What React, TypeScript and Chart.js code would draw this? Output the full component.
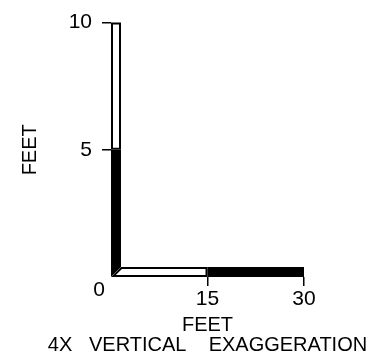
import React, { useEffect, useRef } from 'react';
import { Chart, registerables } from 'chart.js';

Chart.register(...registerables);

// Scale-bar values (feet)
const verticalBreaks = [0, 5, 10];
const horizontalBreaks = [0, 15, 30];
const yTickValues = [5, 10];
const xTickValues = [15, 30];
const originLabel = '0';
const yTitle = 'FEET';
const xTitle = 'FEET';
const noteText = '4X   VERTICAL    EXAGGERATION';

const FONT = "'Liberation Sans', Arial, sans-serif";
const BAR = 10;

const scaleBarPlugin = {
  id: 'scaleBar',
  afterDraw(chart: any) {
    const { ctx } = chart;
    const xs = chart.scales.x;
    const ys = chart.scales.y;
    const x0 = xs.getPixelForValue(0);
    const y0 = ys.getPixelForValue(0);

    const drawShape = (pts: number[][], filled: boolean) => {
      ctx.save();
      ctx.beginPath();
      pts.forEach((p, i) => (i === 0 ? ctx.moveTo(p[0], p[1]) : ctx.lineTo(p[0], p[1])));
      ctx.closePath();
      if (filled) {
        ctx.fillStyle = '#000';
        ctx.fill();
      } else {
        ctx.fillStyle = '#fff';
        ctx.fill();
        ctx.clip();
        ctx.lineWidth = 4;
        ctx.strokeStyle = '#000';
        ctx.stroke();
      }
      ctx.restore();
    };

    // vertical bar segments (black first)
    for (let i = 0; i < verticalBreaks.length - 1; i++) {
      const bot = ys.getPixelForValue(verticalBreaks[i]);
      const top = ys.getPixelForValue(verticalBreaks[i + 1]);
      const filled = i % 2 === 0;
      const pts =
        verticalBreaks[i] === 0
          ? [[x0, top], [x0 + BAR, top], [x0 + BAR, bot - BAR], [x0, bot]]
          : [[x0, top], [x0 + BAR, top], [x0 + BAR, bot], [x0, bot]];
      drawShape(pts, filled);
    }
    // horizontal bar segments (white first)
    for (let i = 0; i < horizontalBreaks.length - 1; i++) {
      const l = xs.getPixelForValue(horizontalBreaks[i]);
      const r = xs.getPixelForValue(horizontalBreaks[i + 1]);
      const filled = i % 2 === 1;
      const pts =
        horizontalBreaks[i] === 0
          ? [[l, y0], [l + BAR, y0 - BAR], [r, y0 - BAR], [r, y0]]
          : [[l, y0 - BAR], [r, y0 - BAR], [r, y0], [l, y0]];
      drawShape(pts, filled);
    }

    ctx.save();
    ctx.fillStyle = '#000';
    ctx.textAlign = 'center';
    ctx.textBaseline = 'middle';
    // shared origin label
    ctx.font = `21px ${FONT}`;
    ctx.fillText(originLabel, x0 - 12, y0 + 13);
    // exaggeration note, centred under the horizontal scale
    ctx.font = `20px ${FONT}`;
    ctx.fillText(noteText, (xs.left + xs.right) / 2, xs.bottom - 15);
    ctx.restore();
  },
};

export default function App() {
  const ref = useRef<HTMLCanvasElement>(null);

  useEffect(() => {
    const chart = new Chart(ref.current as HTMLCanvasElement, {
      type: 'scatter',
      data: { datasets: [] },
      options: {
        animation: false,
        responsive: true,
        maintainAspectRatio: false,
        layout: { padding: { left: 0, top: 21, right: 81, bottom: 0 } },
        plugins: { legend: { display: false }, tooltip: { enabled: false } },
        scales: {
          x: {
            type: 'linear',
            position: 'bottom',
            min: 0,
            max: 30,
            afterFit: (s: any) => {
              s.height = 83;
            },
            afterBuildTicks: (s: any) => {
              s.ticks = xTickValues.map((v) => ({ value: v }));
            },
            grid: { drawOnChartArea: false, drawTicks: true, tickLength: 9, color: '#000', lineWidth: 1.5 },
            border: { display: false },
            ticks: { color: '#000', font: { family: FONT, size: 21 }, padding: 1, maxRotation: 0, autoSkip: false },
            title: {
              display: true,
              text: xTitle,
              color: '#000',
              font: { family: FONT, size: 20, lineHeight: '20px' },
              padding: { top: 0, bottom: 25 },
            },
          },
          y: {
            type: 'linear',
            position: 'left',
            min: 0,
            max: 10,
            afterFit: (s: any) => {
              s.width = 111;
            },
            afterBuildTicks: (s: any) => {
              s.ticks = yTickValues.map((v) => ({ value: v }));
            },
            grid: { drawOnChartArea: false, drawTicks: true, tickLength: 9, color: '#000', lineWidth: 1.5 },
            border: { display: false },
            ticks: { color: '#000', font: { family: FONT, size: 21 }, padding: 10, autoSkip: false },
            title: {
              display: true,
              text: yTitle,
              color: '#000',
              font: { family: FONT, size: 20 },
              padding: { top: 18, bottom: 0 },
            },
          },
        },
      } as any,
      plugins: [scaleBarPlugin],
    });
    return () => chart.destroy();
  }, []);

  return (
    <div style={{ position: 'fixed', left: 0, top: 0, width: 385, height: 360, background: '#fff' }}>
      <canvas ref={ref} />
    </div>
  );
}
